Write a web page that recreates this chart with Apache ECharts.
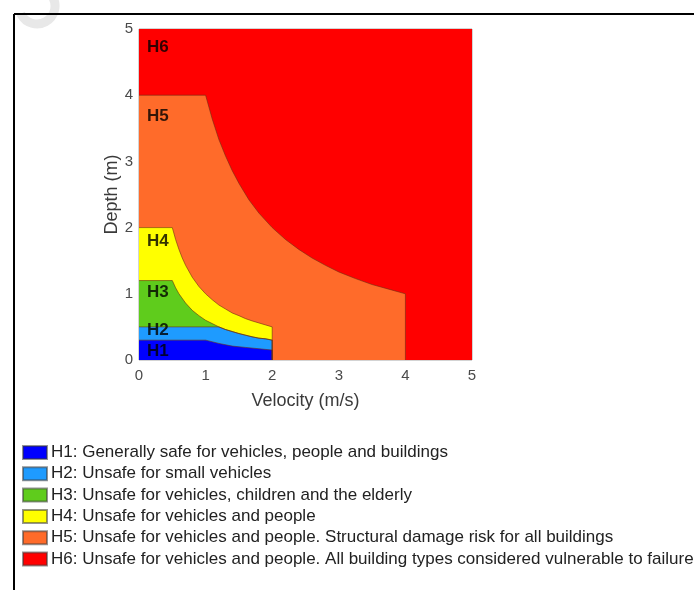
<!DOCTYPE html>
<html>
<head>
<meta charset="utf-8">
<script src="https://cdn.jsdelivr.net/npm/echarts@6/dist/echarts.min.js"></script>
<style>
  html, body { margin: 0; padding: 0; background: #fff; }
  #chart { width: 694px; height: 590px; }
</style>
</head>
<body>
<div id="chart"></div>
<script>
// Hazard classes, lowest to highest
const hazardNames = ['H1', 'H2', 'H3', 'H4', 'H5', 'H6'];
const hazardLegend = [
  'H1: Generally safe for vehicles, people and buildings',
  'H2: Unsafe for small vehicles',
  'H3: Unsafe for vehicles, children and the elderly',
  'H4: Unsafe for vehicles and people',
  'H5: Unsafe for vehicles and people. Structural damage risk for all buildings',
  'H6: Unsafe for vehicles and people. All building types considered vulnerable to failure'
];
const hazardColors = ['#0000ff', '#1e9bff', '#5fcc1c', '#ffff00', '#ff6b2a', '#ff0000'];

// Upper boundary of each class as [velocity (m/s), depth (m)]
const h1Top = [[0, 0.3], [1, 0.3], [1.2, 0.25], [1.4, 0.21], [1.6, 0.19], [1.8, 0.17], [2, 0.15], [2, 0]];
const h2Top = [[0, 0.5], [1.2, 0.5], [1.3, 0.46], [1.4, 0.43], [1.5, 0.4], [1.6, 0.375], [1.7, 0.35], [1.8, 0.33], [1.9, 0.32], [2, 0.3], [2, 0]];
const h3Top = [[0, 1.2], [0.5, 1.2], [0.55, 1.09], [0.6, 1.0], [0.7, 0.86], [0.8, 0.75], [0.9, 0.67], [1, 0.6], [1.1, 0.55], [1.2, 0.5], [1.3, 0.46], [1.4, 0.43], [1.5, 0.4], [1.6, 0.375], [1.7, 0.35], [1.8, 0.33], [1.9, 0.32], [2, 0.3], [2, 0]];
const h4Top = [[0, 2], [0.5, 2], [0.55, 1.82], [0.6, 1.67], [0.65, 1.54], [0.7, 1.43], [0.8, 1.25], [0.9, 1.11], [1, 1], [1.1, 0.91], [1.2, 0.83], [1.3, 0.77], [1.4, 0.71], [1.5, 0.67], [1.6, 0.625], [1.7, 0.59], [1.8, 0.56], [1.9, 0.53], [2, 0.5], [2, 0]];
const h5Top = [[0, 4], [1, 4], [1.1, 3.64], [1.2, 3.33], [1.3, 3.08], [1.4, 2.86], [1.5, 2.67], [1.65, 2.42], [1.8, 2.22], [2, 2], [2.2, 1.82], [2.4, 1.67], [2.6, 1.54], [2.8, 1.43], [3, 1.33], [3.25, 1.23], [3.5, 1.14], [3.75, 1.07], [4, 1], [4, 0]];
const h6Top = [[0, 5], [5, 5]];
const hazardBounds = [h1Top, h2Top, h3Top, h4Top, h5Top, h6Top];

// Where each class tag sits inside its zone
const tagPoints = [[0.12, 0.13], [0.12, 0.45], [0.12, 1.02], [0.12, 1.8], [0.12, 3.68], [0.12, 4.72]];

// Axis ticks
const velocityTicks = [0, 1, 2, 3, 4, 5];
const depthTicks = [0, 1, 2, 3, 4, 5];

const chart = echarts.init(document.getElementById('chart'), null, { renderer: 'canvas' });

const FONT = 'Liberation Sans, Arial, sans-serif';
const edgeColor = 'rgba(110, 45, 20, 0.75)';

// Zones drawn from the outermost (H6) inward so inner zones sit on top
const zoneSeries = [];
for (let i = hazardNames.length - 1; i >= 0; i--) {
  zoneSeries.push({
    name: hazardLegend[i],
    type: 'line',
    data: hazardBounds[i],
    symbol: 'none',
    color: hazardColors[i],
    lineStyle: i === 5 ? { width: 0, color: hazardColors[i] } : { width: 0.8, color: edgeColor },
    areaStyle: { color: hazardColors[i], opacity: 1, origin: 'start' },
    itemStyle: { color: hazardColors[i], borderColor: 'rgba(60,60,60,0.55)', borderWidth: 1 },
    z: 2,
    silent: true
  });
}

const tagSeries = {
  type: 'scatter',
  symbolSize: 0,
  z: 5,
  silent: true,
  data: tagPoints.map((p, i) => ({ value: p, name: hazardNames[i] })),
  label: {
    show: true,
    position: 'inside',
    align: 'left',
    verticalAlign: 'middle',
    formatter: '{b}',
    fontFamily: FONT,
    fontWeight: 'bold',
    fontSize: 17,
    color: '#000'
  }
};

const option = {
  animation: false,
  backgroundColor: '#fff',
  grid: {
    left: 139, right: 222, top: 29, bottom: 230,
    show: true, borderColor: '#a8a8a8', borderWidth: 1
  },
  xAxis: {
    type: 'value',
    min: 0, max: 5, interval: 1,
    name: 'Velocity (m/s)',
    nameLocation: 'middle',
    nameGap: 32,
    nameTextStyle: { fontFamily: FONT, fontSize: 18, color: '#3a3a3a' },
    axisLine: { show: false },
    axisTick: { show: false },
    splitLine: { show: false },
    axisLabel: {
      margin: 8,
      fontFamily: FONT,
      fontSize: 15,
      color: '#4a4a4a',
      customValues: velocityTicks
    }
  },
  yAxis: {
    type: 'value',
    min: 0, max: 5, interval: 1,
    name: 'Depth (m)',
    nameLocation: 'middle',
    nameGap: 17,
    nameTextStyle: { fontFamily: FONT, fontSize: 18, color: '#3a3a3a' },
    axisLine: { show: false },
    axisTick: { show: false },
    splitLine: { show: false },
    axisLabel: {
      margin: 6,
      fontFamily: FONT,
      fontSize: 15,
      color: '#4a4a4a',
      customValues: depthTicks
    }
  },
  legend: {
    data: hazardLegend,
    orient: 'vertical',
    left: 22,
    top: 444,
    icon: 'rect',
    itemWidth: 24,
    itemHeight: 13,
    itemGap: 4.3,
    selectedMode: false,
    padding: 0,
    textStyle: {
      fontFamily: FONT,
      fontSize: 17,
      color: '#222',
      padding: [0, 0, 0, -1]
    }
  },
  series: zoneSeries.concat([tagSeries]),
  graphic: [
    // outer frame
    { type: 'line', shape: { x1: 14, y1: 14, x2: 694, y2: 14 }, style: { stroke: '#000', lineWidth: 2 }, z: 10 },
    { type: 'line', shape: { x1: 14, y1: 14, x2: 14, y2: 590 }, style: { stroke: '#000', lineWidth: 2 }, z: 10 },
    // faint mark in the corner
    { type: 'arc', shape: { cx: 37, cy: 6, r: 18, startAngle: -0.5, endAngle: 2.7, clockwise: true },
      style: { stroke: '#e8e8e8', lineWidth: 9, fill: null }, z: 1 }
  ]
};

chart.setOption(option);
</script>
</body>
</html>
